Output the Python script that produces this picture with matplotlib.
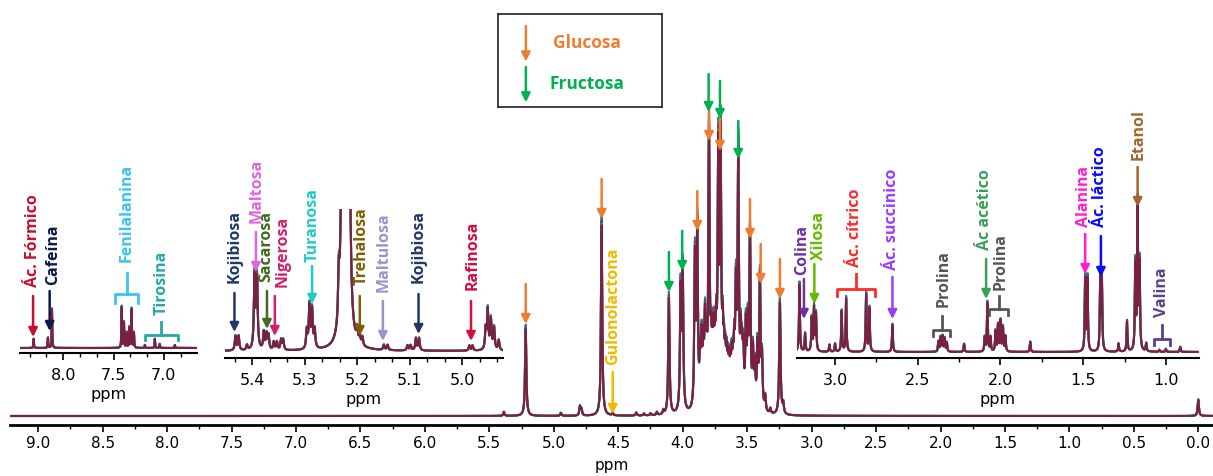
import matplotlib.pyplot as plt
import numpy as np
from matplotlib.ticker import MultipleLocator, AutoMinorLocator

# ---- peak lists (ppm, height in px above baseline) ----
main_ppm = [5.387, 5.218, 4.945, 4.797, 4.785, 4.629, 4.543, 4.36, 4.30, 4.25, 4.20, 4.15,
            4.107, 4.016, 4.000, 3.905, 3.887, 3.865, 3.853, 3.84, 3.827, 3.815, 3.796,
            3.78, 3.77, 3.76, 3.75, 3.74, 3.724, 3.706, 3.69, 3.68, 3.67, 3.66, 3.65,
            3.64, 3.63, 3.62, 3.61, 3.60, 3.587, 3.569, 3.55, 3.54, 3.53, 3.51, 3.495,
            3.478, 3.455, 3.44, 3.42, 3.401, 3.385, 3.36, 3.32, 3.246, 3.22, 0.0]
main_h = [4, 87, 3, 9, 6, 191, 2, 3, 2, 2, 3, 4,
          117, 119, 139, 150, 177, 45, 60, 55, 77, 55, 270,
          50, 45, 57, 45, 60, 244, 258, 60, 45, 40, 39, 35,
          35, 30, 40, 35, 50, 110, 251, 60, 45, 50, 77, 75,
          171, 54, 40, 60, 130, 50, 15, 5, 112, 10, 16]

arom_ppm = [8.294, 8.152, 8.112, 7.419, 7.396, 7.369, 7.343, 7.320, 7.297,
            7.188, 7.089, 7.04, 6.89]
arom_h = [9, 10, 38, 40, 25, 15, 20, 38, 15, 3, 9, 4, 3]

anom_ppm = [5.432, 5.426, 5.41, 5.3956, 5.391, 5.378, 5.373, 5.369, 5.359, 5.353,
            5.345, 5.341, 5.291, 5.286, 5.296, 5.281, 5.235, 5.227, 5.217, 5.200,
            5.195, 5.190, 5.149, 5.142, 5.104, 5.098, 5.088, 5.082, 4.986, 4.980,
            4.955, 4.951, 4.945, 4.939, 4.93]
anom_h = [14, 14, 5, 72, 70, 17, 15, 14, 8, 8,
          10, 10, 42, 38, 18, 18, 45, 1200, 1200, 12,
          8, 8, 5, 5, 5, 5, 12, 12, 5, 5,
          20, 39, 30, 22, 10]

ali_ppm = [3.215, 3.181, 3.141, 3.127, 3.115, 3.034, 3.0, 2.960, 2.933, 2.812, 2.792,
           2.653, 2.375, 2.362, 2.350, 2.337, 2.324, 2.22, 2.095, 2.079, 2.06,
           2.03, 2.015, 2.0, 1.985, 1.97, 1.82, 1.488, 1.474, 1.397, 1.387,
           1.286, 1.235, 1.185, 1.171, 1.159, 1.119, 1.04, 1.0, 0.913]
ali_h = [67, 18, 33, 43, 37, 7, 8, 40, 53, 57, 43,
         27, 10, 14, 15, 13, 9, 8, 14, 48, 14,
         20, 26, 30, 24, 15, 10, 72, 72, 70, 70,
         8, 30, 85, 142, 85, 8, 2, 3, 5]

# ---- annotations: (text, color, ppm, y of text bottom) / (color, ppm, tail, tip) ----
arom_text = [('Ác. Fórmico', '#c8102e', 8.30, 62), ('Cafeína', '#0c1a4b', 8.096, 64),
             ('Fenilalanina', '#3cc3f0', 7.37, 87), ('Tirosina', '#26a7ad', 7.023, 34)]
arom_arrows = [('#c8102e', 8.30, 52, 11), ('#0c1a4b', 8.135, 57, 17)]
arom_brackets = [('#3cc3f0', 7.485, 7.254, 54, 75, 45), ('#26a7ad', 7.188, 6.858, 13, 26, 8)]

anom_text = [('Kojibiosa', '#203864', 5.434, 69), ('Maltosa', '#e066e0', 5.391, 129),
             ('Sacarosa', '#3e6b1f', 5.374, 70), ('Nigerosa', '#d1206e', 5.343, 65),
             ('Turanosa', '#22c9c9', 5.285, 90), ('Trehalosa', '#7f6000', 5.192, 67),
             ('Maltulosa', '#9c93c9', 5.149, 60), ('Kojibiosa', '#203864', 5.082, 69),
             ('Rafinosa', '#cf1040', 4.980, 62)]
anom_arrows = [('#203864', 5.434, 58, 19), ('#e066e0', 5.393, 119, 79),
               ('#3e6b1f', 5.372, 60, 22), ('#d1206e', 5.357, 55, 15),
               ('#22c9c9', 5.286, 85, 47), ('#7f6000', 5.195, 55, 15),
               ('#9c93c9', 5.151, 50, 10), ('#203864', 5.083, 57, 17),
               ('#cf1040', 4.983, 50, 10)]

ali_text = [('Colina', '#7030a0', 3.198, 78), ('Xilosa', '#66b800', 3.100, 93),
            ('Ác. cítrico', '#ff2a2a', 2.879, 86), ('Ác. succinico', '#9b3dff', 2.657, 83),
            ('Prolina', '#555555', 2.345, 46), ('Ác acético', '#3a9e5c', 2.093, 103),
            ('Prolina', '#555555', 1.998, 63), ('Alanina', '#ff1fd0', 1.494, 126),
            ('Ác. láctico', '#0a0aff', 1.397, 126), ('Etanol', '#a3652c', 1.165, 193),
            ('Valina', '#5b3f8c', 1.024, 36)]
ali_arrows = [('#7030a0', 3.188, 73, 33), ('#66b800', 3.125, 88, 48),
              ('#9b3dff', 2.653, 75, 33), ('#3a9e5c', 2.087, 93, 53),
              ('#ff1fd0', 1.488, 118, 78), ('#0a0aff', 1.393, 116, 75),
              ('#a3652c', 1.171, 185, 145)]
ali_brackets = [('#ff2a2a', 2.986, 2.758, 63, 78, 56), ('#555555', 2.409, 2.304, 22, 36, 16),
                ('#555555', 2.067, 1.952, 43, 56, 37), ('#5b3f8c', 1.070, 0.978, 13, 27, 7)]

GLC = '#ed7d31'
FRU = '#00b050'
glc_arrows = [(5.218, 132, 92), (4.629, 237, 197), (3.887, 225, 185), (3.796, 304, 275),
              (3.711, 297, 265), (3.478, 217, 177), (3.395, 172, 132), (3.246, 157, 117)]
fru_arrows = [(4.107, 164, 124), (4.004, 185, 145), (3.799, 342, 304),
              (3.711, 335, 297), (3.569, 295, 257)]

LAYERS = [('#2f7f95', 1.05), ('#5a3ea0', 1.025), ('#4f8f3a', 1.01), ('#7b1f45', 1.0)]
LABEL_FONT = ['Open Sans', 'DejaVu Sans']

W, H = 1213, 477
fig = plt.figure(figsize=(W / 100, H / 100), dpi=100)


def box(left, bottom, right, top):
    return [left / W, 1 - bottom / H, (right - left) / W, (bottom - top) / H]


def spectrum(ax, ppm, heights, width, xlim):
    x = np.linspace(xlim[1], xlim[0], 15000)
    y = (np.array(heights) * width ** 2 /
         ((x[:, None] - np.array(ppm)) ** 2 + width ** 2)).sum(axis=1)
    for c, s in LAYERS:
        ax.plot(x, y * s, color=c, lw=1.5)


def style(ax, xlim, ylim, major, nminor, lw, fs, tick_len, pad, labelpad):
    ax.set_xlim(*xlim)
    ax.set_ylim(*ylim)
    ax.patch.set_alpha(0)
    for s in ['left', 'right', 'top']:
        ax.spines[s].set_visible(False)
    ax.spines['bottom'].set_linewidth(lw)
    ax.set_yticks([])
    ax.xaxis.set_major_locator(MultipleLocator(major))
    ax.xaxis.set_minor_locator(AutoMinorLocator(nminor))
    ax.xaxis.set_major_formatter(lambda v, p: f'{v:.1f}')
    ax.tick_params(axis='x', which='major', length=tick_len, width=1.2, labelsize=fs, pad=pad)
    ax.tick_params(axis='x', which='minor', length=tick_len * 0.6, width=1.0)
    ax.set_xlabel('ppm', fontsize=fs, labelpad=labelpad)


def annotate(ax, texts, arrows, brackets=()):
    for t, c, x, y in texts:
        ax.text(x, y, t, color=c, rotation=90, ha='center', va='bottom', fontsize=11.5,
                fontweight='bold', family=LABEL_FONT, clip_on=False)
    for c, x, tail, tip in arrows:
        ax.annotate('', xy=(x, tip), xytext=(x, tail), annotation_clip=False,
                    arrowprops=dict(arrowstyle='-|>', color=c, lw=1.8, mutation_scale=13,
                                    shrinkA=0, shrinkB=0))
    for c, l, r, y, top, bot in brackets:
        ax.plot([l, l, r, r], [bot, y, y, bot], color=c, lw=2, clip_on=False)
        ax.plot([(l + r) / 2] * 2, [y, top], color=c, lw=2, clip_on=False)


# main spectrum
ax = fig.add_axes(box(10, 426, 1213, 0))
xl = (9.219, -0.114)
spectrum(ax, main_ppm, main_h, 0.0055, xl)
style(ax, xl, (-9, 417), 0.5, 2, 2.0, 11, 5, 2, 5)
annotate(ax, [('Gulonolactona', '#f5b800', 4.543, 52)], [('#f5b800', 4.543, 44, 2)])
annotate(ax, [], [(GLC, x, a, b) for x, a, b in glc_arrows])
annotate(ax, [], [(FRU, x, a, b) for x, a, b in fru_arrows])

# inset: aromatic region
ax1 = fig.add_axes(box(20, 354, 197, 270))
xl = (8.43, 6.67)
spectrum(ax1, arom_ppm, arom_h, 0.003, xl)
style(ax1, xl, (-5, 79), 0.5, 3, 1.5, 11.5, 5, 5, 3)
annotate(ax1, arom_text, arom_arrows, arom_brackets)

# inset: anomeric region
ax2 = fig.add_axes(box(225, 359, 503, 210))
xl = (5.452, 4.922)
spectrum(ax2, anom_ppm, anom_h, 0.0015, xl)
style(ax2, xl, (-7, 142), 0.1, 3, 1.5, 11.5, 5, 5, 3)
annotate(ax2, anom_text, anom_arrows)

# inset: aliphatic region
ax3 = fig.add_axes(box(797, 359, 1199, 140))
xl = (3.23, 0.80)
spectrum(ax3, ali_ppm, ali_h, 0.003, xl)
style(ax3, xl, (-6, 213), 0.5, 2, 1.5, 11.5, 5, 5, 3)
annotate(ax3, ali_text, ali_arrows, ali_brackets)

# legend box
lg = fig.add_axes(box(498, 108, 662, 15))
lg.set_xlim(0, 1)
lg.set_ylim(0, 1)
lg.set_xticks([])
lg.set_yticks([])
for s in lg.spines.values():
    s.set_linewidth(1.3)
    s.set_color('#333333')
for c, y0, y1, yt, name in [(GLC, 0.87, 0.49, 0.70, 'Glucosa'), (FRU, 0.43, 0.05, 0.26, 'Fructosa')]:
    lg.annotate('', xy=(0.17, y1), xytext=(0.17, y0),
                arrowprops=dict(arrowstyle='-|>', color=c, lw=1.8, mutation_scale=13,
                                shrinkA=0, shrinkB=0))
    lg.text(0.54, yt, name, color=c, ha='center', va='center', fontsize=12.5,
            fontweight='bold', family=LABEL_FONT)

fig.savefig('out.png', dpi=100)
